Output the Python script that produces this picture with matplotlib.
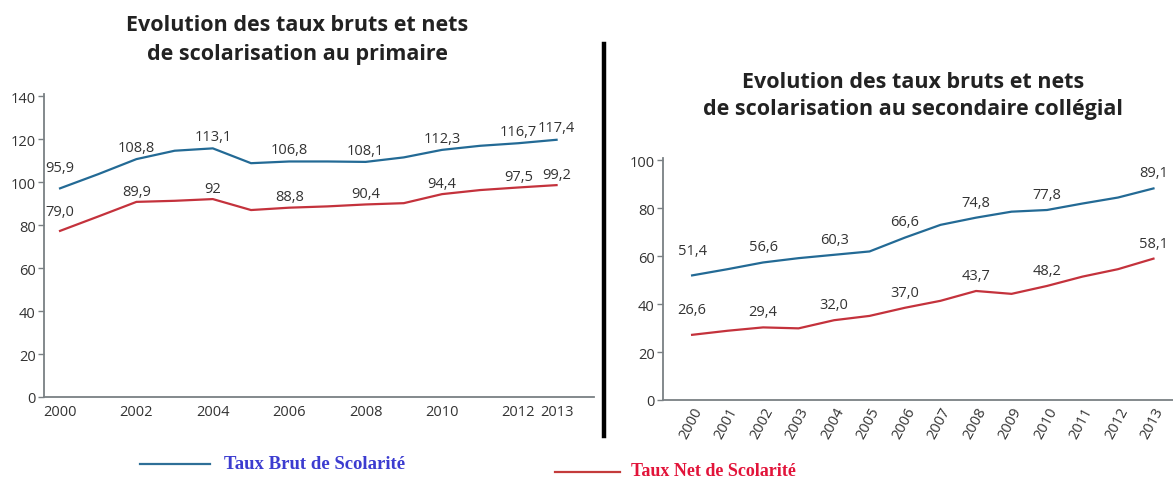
import matplotlib.pyplot as plt
from matplotlib.lines import Line2D

# --- data ---
years = list(range(2000, 2014))

# primaire
prim_brut = [97.1, 103.7, 110.7, 114.6, 115.7, 108.8, 109.6, 109.6, 109.4, 111.5, 115.0, 116.9, 118.1, 119.7]
prim_net = [77.3, 84.0, 90.8, 91.3, 92.1, 87.0, 88.1, 88.7, 89.6, 90.2, 94.4, 96.3, 97.5, 98.6]
prim_lab_years = [2000, 2002, 2004, 2006, 2008, 2010, 2012, 2013]
prim_brut_lab = ["95,9", "108,8", "113,1", "106,8", "108,1", "112,3", "116,7", "117,4"]
prim_net_lab = ["79,0", "89,9", "92", "88,8", "90,4", "94,4", "97,5", "99,2"]
prim_xticks = [2000, 2002, 2004, 2006, 2008, 2010, 2012, 2013]

# secondaire collegial
sec_brut = [52.0, 54.6, 57.4, 59.2, 60.6, 62.0, 67.8, 73.1, 76.1, 78.6, 79.3, 82.0, 84.5, 88.3]
sec_net = [27.2, 28.9, 30.3, 29.9, 33.3, 35.1, 38.5, 41.4, 45.5, 44.3, 47.6, 51.5, 54.6, 59.0]
sec_lab_years = [2000, 2002, 2004, 2006, 2008, 2010, 2013]
sec_brut_lab = ["51,4", "56,6", "60,3", "66,6", "74,8", "77,8", "89,1"]
sec_net_lab = ["26,6", "29,4", "32,0", "37,0", "43,7", "48,2", "58,1"]

BLUE = "#236a95"
RED = "#c4323c"
AXC = "#7a8084"
TXT = "#333333"

plt.rcParams['font.family'] = ['Open Sans', 'DejaVu Sans']

fig = plt.figure(figsize=(11.73, 4.81), dpi=100)


def style_axes(ax):
    for s in ['top', 'right']:
        ax.spines[s].set_visible(False)
    for s in ['left', 'bottom']:
        ax.spines[s].set_color(AXC)
        ax.spines[s].set_linewidth(1.3)
    ax.tick_params(axis='y', colors=AXC, labelcolor=TXT, labelsize=10.5, length=4, width=1, pad=2)
    ax.tick_params(axis='x', colors=AXC, labelcolor=TXT, labelsize=10.5, length=0, pad=5)


def put_labels(ax, xs, ys_all, labels, off):
    for yr, lab in zip(xs, labels):
        v = ys_all[years.index(yr)]
        o = off + (4 if yr == years[0] else 0)
        ax.text(yr, v + o, lab, ha='center', va='center', fontsize=10.5, color=TXT)


# left chart
ax1 = fig.add_axes([44 / 1173, 83 / 481, 550 / 1173, 303 / 481])
ax1.plot(years, prim_brut, color=BLUE, lw=1.6)
ax1.plot(years, prim_net, color=RED, lw=1.6)
ax1.set_xlim(1999.58, 2013.98)
ax1.set_ylim(0, 141)
ax1.set_yticks(range(0, 141, 20))
ax1.set_xticks(prim_xticks)
style_axes(ax1)
put_labels(ax1, prim_lab_years, prim_brut, prim_brut_lab, 5.5)
put_labels(ax1, prim_lab_years, prim_net, prim_net_lab, 5.0)

# right chart
ax2 = fig.add_axes([663 / 1173, 80 / 481, 510 / 1173, 242 / 481])
ax2.plot(years, sec_brut, color=BLUE, lw=1.6)
ax2.plot(years, sec_net, color=RED, lw=1.6)
ax2.set_xlim(1999.18, 2013.55)
ax2.set_ylim(0, 101)
ax2.set_yticks(range(0, 101, 20))
ax2.set_xticks(years)
style_axes(ax2)
ax2.tick_params(axis='x', pad=3)
for t in ax2.get_xticklabels():
    t.set_rotation(62)
    t.set_ha('right')
    t.set_rotation_mode('anchor')
put_labels(ax2, sec_lab_years, sec_brut, sec_brut_lab, 6.5)
put_labels(ax2, sec_lab_years, sec_net, sec_net_lab, 6.5)

# titles
fig.text(297 / 1173, 1 - 40 / 481, "Evolution des taux bruts et nets\nde scolarisation au primaire",
         ha='center', va='center', fontsize=15.5, fontweight='bold', color='#222222', linespacing=1.45)
fig.text(913 / 1173, 1 - 96 / 481, "Evolution des taux bruts et nets\nde scolarisation au secondaire collégial",
         ha='center', va='center', fontsize=15.5, fontweight='bold', color='#222222', linespacing=1.4)

# separator
fig.add_artist(Line2D([604 / 1173, 604 / 1173], [1 - 45 / 481, 1 - 437 / 481], color='black', lw=3.2))

# legend
fig.add_artist(Line2D([140 / 1173, 210 / 1173], [1 - 465 / 481, 1 - 465 / 481], color='#2e6f97', lw=1.6))
fig.text(224 / 1173, 1 - 465 / 481, "Taux Brut de Scolarité", ha='left', va='center',
         family=['Liberation Serif'], fontweight='bold', fontsize=13.5, color='#3c3cd0')
fig.add_artist(Line2D([555 / 1173, 620 / 1173], [1 - 473 / 481, 1 - 473 / 481], color='#c43b3b', lw=1.6))
fig.text(631 / 1173, 1 - 472 / 481, "Taux Net de Scolarité", ha='left', va='center',
         family=['Liberation Serif'], fontweight='bold', fontsize=13, color='#e2143a')

fig.savefig("out.png", dpi=100)
